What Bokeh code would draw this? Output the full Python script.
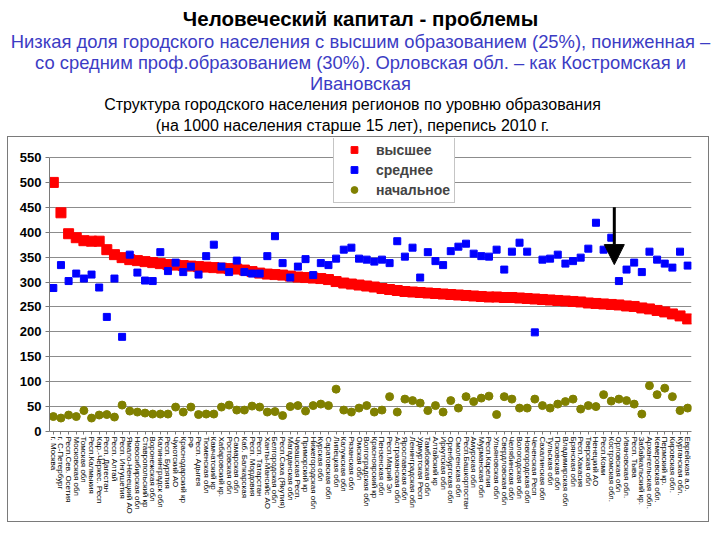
from bokeh.plotting import figure
from bokeh.models import (Range1d, FactorRange, Legend, LegendItem, Arrow,
                          NormalHead, ColumnDataSource, FixedTicker, Spacer)
from bokeh.layouts import column, row
from bokeh.core.properties import value
from bokeh.embed import file_html
from bokeh.resources import INLINE

# ---------------- data ----------------
REGIONS = [
    "г. Москва", "г. С-Петербург", "Респ.Сев. Осетия", "Московская обл",
    "Томская обл", "Респ.Калмыкия", "Кар.-Черкес. Респ", "Респ. Дагестан",
    "Респ. Алтай", "Респ. Ингушетия", "Ямало-Ненецкий АО", "Новосибирская обл",
    "Ставропольский кр", "Воронежская обл", "Калининградск обл", "Респ. Бурятия",
    "Чукотский АО", "Краснодарский кр", "РФ", "Респ. Адыгея",
    "Тюменская обл", "Камчатский кр", "Хабаровский кр.", "Ростовская обл",
    "Самарская обл", "Каб. Балкарская", "Респ. Мордовия", "Респ. Татарстан",
    "Ханты-Мансийс АО", "Белгородская обл", "Респ.Саха (Якутия)", "Магаданская обл",
    "Чувашская Респ.", "Приморский кр", "Нижегородская обл", "Курская обл",
    "Саратовская обл", "Липецкая обл", "Калужская обл", "Рязанская обл",
    "Омская обл", "Волгоградская обл", "Красноярский кр", "Пензенская обл",
    "Респ.Марий Эл", "Астраханская обл", "Ярославская обл", "Ленинградская обл",
    "Удмуртская Респ", "Тамбовская обл", "Алтайский кр", "Иркутская обл",
    "Оренбургская обл", "Смоленская обл", "Респ.Башкортостан", "Амурская обл",
    "Мурманская обл", "Респ.Карелия", "Ульяновская обл", "Свердловская обл",
    "Челябинская обл", "Вологодская обл", "Новгородская обл", "Чеченская Респ",
    "Сахалинская обл", "Тульская обл", "Псковская обл", "Владимирская обл",
    "Брянская обл", "Респ.Хакасия", "Тверская обл", "Ненецкий АО",
    "Респ.Коми", "Костромская обл.", "Орловская обл", "Ивановская обл.",
    "Респ. Тыва", "Забайкальский кр.", "Архангельская обл.", "Кемеровская обл.",
    "Пермский кр.", "Кировская обл.", "Курганская обл.", "Еврейская а.о.",
]

HIGHER = [
    500, 439, 397, 389, 383, 382, 382, 365, 355, 349,
    345, 343, 341, 339, 337, 335, 334, 333, 332, 331,
    330, 329, 328, 327, 326, 324, 321, 318, 316, 315,
    314, 312, 310, 309, 308, 307, 305, 301, 298, 296,
    294, 292, 290, 287, 285, 283, 281, 280, 279, 278,
    277, 276, 275, 274, 273, 272, 271, 270, 270, 269,
    269, 268, 267, 266, 265, 264, 263, 262, 261, 260,
    258, 257, 256, 255, 254, 252, 251, 248, 246, 243,
    240, 236, 232, 226,
]

SECONDARY = [
    288, 334, 302, 317, 307, 315, 289, 230, 307, 190,
    355, 319, 303, 302, 360, 322, 339, 320, 331, 315,
    352, 375, 331, 320, 343, 320, 317, 317, 352, 392,
    338, 309, 331, 346, 314, 338, 334, 347, 365, 369,
    347, 345, 341, 345, 338, 382, 351, 369, 309, 360,
    342, 334, 362, 371, 377, 357, 352, 351, 365, 325,
    361, 379, 361, 199, 345, 347, 355, 337, 342, 349,
    367, 419, 365, 389, 302, 325, 339, 320, 361, 345,
    337, 329, 361, 333,
]

PRIMARY = [
    30, 27, 33, 30, 42, 27, 33, 34, 29, 53,
    41, 39, 37, 35, 35, 35, 49, 39, 49, 34,
    35, 35, 49, 53, 43, 43, 51, 49, 39, 40,
    32, 50, 52, 41, 52, 55, 52, 85, 43, 39,
    47, 52, 39, 43, 70, 39, 65, 62, 57, 42,
    52, 39, 62, 47, 70, 60, 67, 71, 34, 70,
    65, 47, 47, 65, 52, 47, 55, 60, 65, 45,
    52, 50, 74, 61, 65, 62, 55, 35, 92, 74,
    87, 70, 42, 47,
]

SERIES_NAMES = ["высшее", "среднее", "начальное"]
Y_TICKS = [0, 50, 100, 150, 200, 250, 300, 350, 400, 450, 500, 550]
Y_AXIS_MAX = 550

TITLE = "Человеческий капитал - проблемы"
BLUE_LINES = [
    "Низкая доля городского населения с высшим образованием (25%), пониженная –",
    "со средним проф.образованием (30%). Орловская обл. – как Костромская и",
    "Ивановская",
]
BLACK_LINES = [
    "Структура городского населения регионов по уровню образования",
    "(на 1000 населения старше 15 лет), перепись 2010 г.",
]
HIGHLIGHT = "Орловская обл"

FONT = value("Liberation Sans")

# ---------------- title block ----------------
t = figure(width=720, height=136, x_range=Range1d(0, 720), y_range=Range1d(0, 136),
           output_backend="svg", toolbar_location=None, min_border=0,
           x_axis_type=None, y_axis_type=None)
t.grid.visible = False
t.outline_line_color = None

t.text(x=[360], y=[118], text=[TITLE], text_font=FONT, text_font_size="20.5px",
       text_font_style="bold", text_align="center", text_baseline="middle",
       text_color="black")
t.text(x=[360, 360, 360], y=[95, 74, 53], text=BLUE_LINES, text_font=FONT,
       text_font_size="18.4px", text_align="center", text_baseline="middle",
       text_color="#3c3cc4")
t.text(x=[352, 352], y=[32, 11], text=BLACK_LINES, text_font=FONT,
       text_font_size="16px", text_align="center", text_baseline="middle",
       text_color="black")

# ---------------- chart ----------------
src = ColumnDataSource(dict(region=REGIONS, high=HIGHER, sec=SECONDARY, prim=PRIMARY))

# frame extends a little above the 550 line so the legend box can sit there
FRAME_TOP_EXTRA = 293 / 274
p = figure(width=702, height=386, x_range=FactorRange(*REGIONS),
           y_range=Range1d(0, Y_AXIS_MAX * FRAME_TOP_EXTRA),
           output_backend="svg", toolbar_location=None,
           min_border_left=41, min_border_right=19, min_border_top=1, min_border_bottom=92,
           styles={"border": "1px solid #7a7a7a"})
p.outline_line_color = None
p.xgrid.visible = False
p.ygrid.grid_line_color = "#8c8c8c"
p.ygrid.grid_line_width = 1

p.yaxis.ticker = FixedTicker(ticks=Y_TICKS)
p.yaxis.bounds = (0, Y_AXIS_MAX)
p.yaxis.major_label_text_font = "Liberation Sans"
p.yaxis.major_label_text_font_size = "13px"
p.yaxis.major_label_text_font_style = "bold"
p.yaxis.major_label_text_color = "black"
p.yaxis.axis_line_color = "#7a7a7a"
p.yaxis.major_tick_line_color = "#7a7a7a"
p.yaxis.major_tick_out = 4
p.yaxis.major_tick_in = 0
p.yaxis.minor_tick_line_color = None
p.yaxis.major_label_standoff = 4

p.xaxis.major_label_orientation = "vertical"
p.xaxis.major_label_text_font = "Liberation Sans"
p.xaxis.major_label_text_font_size = "8px"
p.xaxis.major_label_text_color = "black"
p.xaxis.axis_line_color = "#7a7a7a"
p.xaxis.major_tick_line_color = "#7a7a7a"
p.xaxis.major_tick_out = 3
p.xaxis.major_tick_in = 0
p.xaxis.major_label_standoff = 2

r_high = p.scatter(x="region", y="high", source=src, marker="square", size=10,
                   fill_color="#ff0000", line_color="#ff0000")
r_sec = p.scatter(x="region", y="sec", source=src, marker="square", size=7,
                  fill_color="#0000ff", line_color="#0000ff")
r_prim = p.scatter(x="region", y="prim", source=src, marker="circle", size=8,
                   fill_color="#808000", line_color="#808000")

legend = Legend(items=[LegendItem(label=SERIES_NAMES[0], renderers=[r_high]),
                       LegendItem(label=SERIES_NAMES[1], renderers=[r_sec]),
                       LegendItem(label=SERIES_NAMES[2], renderers=[r_prim])],
                location=(284, 228))
legend.border_line_color = "#8c8c8c"
legend.border_line_width = 1
legend.background_fill_color = "white"
legend.background_fill_alpha = 1
legend.padding = 4
legend.margin = 0
legend.spacing = 3
legend.glyph_width = 32
legend.glyph_height = 17
legend.label_height = 17
legend.label_standoff = 6
legend.label_text_font = "Liberation Sans"
legend.label_text_font_size = "14px"
legend.label_text_font_style = "bold"
p.add_layout(legend, "center")

hx = REGIONS.index(HIGHLIGHT) + 0.5 - 0.6
p.add_layout(Arrow(end=NormalHead(size=20, fill_color="black", line_color="black"),
                   x_start=hx, y_start=450, x_end=hx, y_end=335,
                   line_color="black", line_width=3))

layout = column(t, row(Spacer(width=7, height=388), p))
open("out.html", "w").write(file_html(layout, INLINE))
